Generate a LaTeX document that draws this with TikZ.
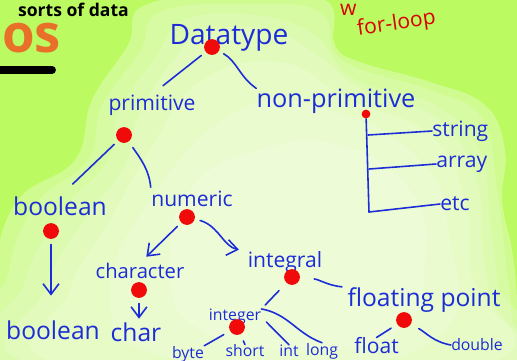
\documentclass[tikz,border=0pt]{standalone}
\usepackage{fontspec}
\setmainfont{Open Sans}
\usetikzlibrary{arrows.meta,positioning}

\definecolor{board}{RGB}{188,250,98}
\definecolor{pen}{RGB}{28,44,214}
\definecolor{dotred}{RGB}{240,10,10}
\definecolor{orng}{RGB}{232,112,40}

\begin{document}
\begin{tikzpicture}[
  x=0.02cm, y=-0.02cm,
  >={Straight Barb[length=6pt,width=9pt]},
  lbl/.style={text=pen, inner sep=0pt, font=\large},
  sml/.style={text=pen, inner sep=0pt, font=\small},
  dot/.style={circle, fill=dotred, inner sep=0pt, minimum size=9pt},
  tinydot/.style={circle, fill=dotred, inner sep=0pt, minimum size=5pt},
  link/.style={draw=pen, line width=0.9pt, line cap=round},
  arr/.style={link, ->},
  haze/.style={white, opacity=0.16}
]

% board and the light cloud
\useasboundingbox (0,0) rectangle (517,360);
\clip (0,0) rectangle (517,360);
\fill[board] (0,0) rectangle (517,360);
\fill[white, opacity=0.3] plot[smooth cycle, tension=0.7] coordinates {
  (128,45) (145,5) (240,-5) (325,0) (335,45) (360,62) (430,82) (485,105)
  (505,150) (502,200) (512,250) (517,300) (517,365) (-5,365) (-5,270)
  (18,200) (75,160) (92,100)};
\fill[haze] plot[smooth cycle, tension=0.7] coordinates {
  (140,52) (160,12) (245,4) (320,12) (342,60) (430,90) (482,118)
  (497,190) (505,255) (512,320) (512,365) (5,365) (8,275) (35,205) (88,160) (102,105)};
\fill[haze] plot[smooth cycle, tension=0.7] coordinates {
  (155,58) (185,20) (255,15) (315,35) (352,78) (435,105) (480,150)
  (490,220) (498,285) (505,365) (22,365) (25,282) (62,212) (108,160) (118,112)};
\fill[haze] plot[smooth cycle, tension=0.7] coordinates {
  (170,65) (205,32) (268,30) (318,55) (362,90) (440,120) (476,180)
  (482,245) (490,305) (495,365) (45,365) (45,290) (85,220) (125,165) (138,118)};
\fill[haze] plot[smooth cycle, tension=0.75] coordinates {
  (200,82) (280,62) (350,100) (430,135) (465,200) (470,270) (480,365)
  (70,365) (70,290) (110,220) (150,150)};
\fill[haze] plot[smooth cycle, tension=0.8] coordinates {
  (240,110) (330,110) (420,160) (450,240) (445,330) (330,365) (160,355)
  (110,300) (150,200)};
\fill[haze] plot[smooth cycle, tension=0.8] coordinates {
  (260,150) (340,145) (410,190) (425,260) (400,330) (300,350) (200,330)
  (170,270) (190,190)};

% bits of the neighbouring notes
\node[font=\normalsize\bfseries, text=black, anchor=north west, inner sep=1pt] (note) at (16,1) {sorts of data};
\node[font=\fontsize{30}{30}\selectfont\bfseries, text=orng, anchor=base west, inner sep=0pt] (os) at (2,52) {os};
\draw[line width=4.5pt, line cap=round] (-10,70) -- (52,70);
\node[font=\large, text=red!85!black, anchor=north west, inner sep=1pt] (wtext) at (338,2) {w};
\node[font=\large, text=red!85!black, anchor=base west, rotate=8] (loop) at (352,36) {for-loop};

% tree
\node[lbl, font=\fontsize{16}{18}\selectfont] (dtype) at (229,38) {Datatype};
\node[dot] (dtdot) at (212,47) {};
\node[lbl] (prim) at (152,105) {primitive};
\node[lbl, font=\Large] (nonprim) at (336,101) {non-primitive};
\node[dot] (pdot) at (124,135) {};
\node[tinydot] (npdot) at (366,114) {};
\coordinate (npbot) at (369,212);
\coordinate (tstr) at (368,135);
\coordinate (tarr) at (369,169);
\node[lbl, anchor=west] (str) at (432,131) {string};
\node[lbl, anchor=west] (array) at (436,164) {array};
\node[lbl, anchor=west] (etc) at (440,204) {etc};

\node[lbl, font=\fontsize{14}{16}\selectfont] (bool) at (60,206) {boolean};
\node[lbl] (num) at (192,199) {numeric};
\node[dot] (bdot) at (51,231) {};
\node[dot] (ndot) at (187,217) {};
\node[lbl, font=\fontsize{14}{16}\selectfont] (boolt) at (53,330) {boolean};

\node[sml, font=\fontsize{11.5}{13}\selectfont] (chr) at (140,271) {character};
\node[dot] (cdot) at (139,290) {};
\node[lbl, font=\fontsize{14}{16}\selectfont] (chart) at (136,332) {char};

\node[lbl] (intg) at (285,262) {integral};
\node[dot] (idot) at (292,277) {};
\node[lbl, font=\fontsize{14}{16}\selectfont] (flp) at (424,300) {floating point};
\node[dot] (fdot) at (404,320) {};
\node[lbl, anchor=west] (flt) at (354,346) {float};
\node[sml] (dbl) at (477,345) {double};

\node[sml] (intr) at (235,317) {integer};
\node[dot] (irdot) at (237,327) {};
\node[sml] (byte) at (188,354) {byte};
\node[sml] (short) at (245,351) {short};
\node[sml] (intt) at (289,351) {int};
\node[sml] (long) at (322,351) {long};

% connectors
\draw[link, shorten <=3pt, shorten >=8pt] (dtdot) -- (prim.north);
\draw[link, shorten <=3pt] (dtdot) to[out=-30, in=145] (nonprim.north west);
\draw[link, shorten <=3pt, shorten >=10pt] (pdot) -- (bool.north);
\draw[link, shorten <=4pt, shorten >=2pt] (pdot) to[out=-55, in=95] (num.north west);
\draw[link] (npdot) -- (npbot);
\draw[link] (tstr) -- (str.west);
\draw[link] (tarr) -- (array.west);
\draw[link] (npbot) -- (etc.west);

\draw[arr, shorten <=3pt, shorten >=14pt] (bdot) -- (boolt.north west -| bdot);
\draw[arr, shorten <=3pt, shorten >=5pt] (ndot) -- (chr.north);
\draw[arr, shorten <=3pt, shorten >=5pt] (ndot) to[out=-15, in=170] (intg.north west);
\draw[arr, shorten <=3pt, shorten >=2pt] (cdot) -- (chart.north -| cdot);

\draw[link, shorten <=6pt, shorten >=3pt] (idot) -- (intr.north east);
\draw[link, shorten <=8pt, shorten >=3pt] (idot) to[out=-5, in=175] (flp.north west);
\draw[link, shorten <=4pt] (fdot) -- (flt.north);
\draw[link, shorten <=5pt] (fdot) to[out=-30, in=170] (dbl.west);

\draw[link, shorten <=4pt] (irdot) -- (byte.north east);
\draw[link, shorten <=4pt] (irdot) -- (short.north);
\draw[link, shorten <=4pt] (intr.east) -- (intt.north);
\draw[link] (intr.north east) to[out=-10, in=160] (long.north);
\end{tikzpicture}
\end{document}
